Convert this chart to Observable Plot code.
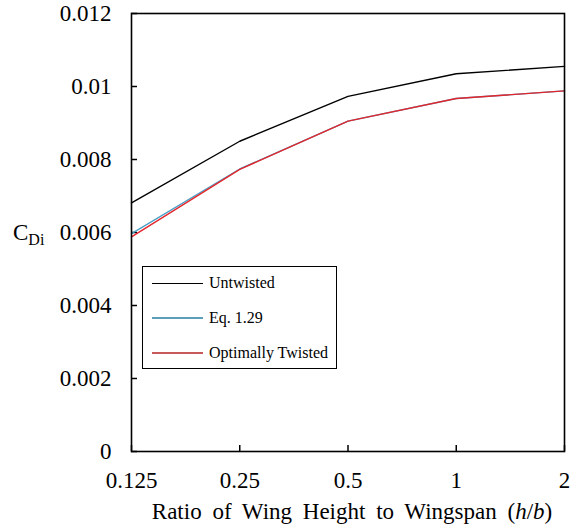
<!DOCTYPE html>
<html>
<head>
<meta charset="utf-8">
<script src="https://cdn.jsdelivr.net/npm/d3@7"></script>
<script src="https://cdn.jsdelivr.net/npm/@observablehq/plot@0.6"></script>
</head>
<body style="margin:0;font-size:20px;background:#fff">
<div id="wrap" style="position:relative;width:573px;height:528px;"></div>
<script>
// Data
const hb = [0.125, 0.25, 0.5, 1, 2];
const untwisted = [0.00681, 0.00850, 0.00973, 0.01035, 0.01055];
const eq129 = [0.00597, 0.00774, 0.00905, 0.00967, 0.00988];
const optimal = [0.00588, 0.00773, 0.00905, 0.00967, 0.00988];
const seriesNames = ["Untwisted", "Eq. 1.29", "Optimally Twisted"];
const lineColors = ["#000000", "#4a9fc6", "#e3262c"];
const legendColors = ["#000000", "#5b9fbd", "#c65a5a"];
const xTicks = [0.125, 0.25, 0.5, 1, 2];
const xTickLabels = ["0.125", "0.25", "0.5", "1", "2"];
const yTicks = [0, 0.002, 0.004, 0.006, 0.008, 0.01, 0.012];
const yTickLabels = ["0", "0.002", "0.004", "0.006", "0.008", "0.01", "0.012"];

const FONT = "'Liberation Serif'";

const rows = [];
[untwisted, eq129, optimal].forEach((vals, s) => {
  vals.forEach((v, i) => rows.push({series: seriesNames[s], x: hb[i], y: v}));
});

const chart = Plot.plot({
  width: 573,
  height: 528,
  marginLeft: 131,
  marginRight: 9,
  marginTop: 13,
  marginBottom: 77,
  style: {fontFamily: FONT, fontSize: "23px", background: "#fff", color: "#000"},
  x: {type: "log", base: 2, domain: [0.125, 2]},
  y: {domain: [0, 0.012]},
  color: {domain: seriesNames, range: lineColors},
  marks: [
    Plot.axisX({ticks: xTicks, tickSize: 0, tickPadding: 20, label: null,
      tickFormat: d => xTickLabels[xTicks.indexOf(d)], fontSize: 23}),
    Plot.axisY({ticks: yTicks, tickSize: 0, tickPadding: 20, label: null,
      tickFormat: d => yTickLabels[yTicks.findIndex(t => Math.abs(t - d) < 1e-9)], fontSize: 23}),
    Plot.ruleX(xTicks, {x: d => d, insetTop: 432, stroke: "#000", strokeWidth: 1.5}),
    Plot.ruleY(yTicks, {y: d => d, insetRight: 427, stroke: "#000", strokeWidth: 1.5}),
    Plot.line(rows, {x: "x", y: "y", z: "series", stroke: "series", strokeWidth: 1.4}),
    Plot.frame({stroke: "#000", strokeWidth: 1.6})
  ]
});

const wrap = document.getElementById("wrap");
wrap.appendChild(chart);

function box(html, css) {
  const d = document.createElement("div");
  d.style.cssText = "position:absolute;line-height:1;white-space:nowrap;color:#000;" + css;
  d.style.fontFamily = FONT;
  d.innerHTML = html;
  wrap.appendChild(d);
  return d;
}
box("C<sub style=\"font-size:16px;vertical-align:-5px\">Di</sub>", "left:13px;top:221px;font-size:23px;");
box("Ratio of Wing Height to Wingspan (<i>h</i>/<i>b</i>)", "left:0;width:704px;top:500px;text-align:center;font-size:23px;word-spacing:5px;");

const legend = box("", "left:142px;top:266px;width:193px;height:101px;border:1.5px solid #000;background:#fff;");
const rowTops = [6, 41, 76];
seriesNames.forEach((name, i) => {
  const r = document.createElement("div");
  r.style.cssText = "position:absolute;left:0;height:20px;display:flex;align-items:center;font-size:16px;white-space:nowrap;top:" + rowTops[i] + "px";
  const sw = document.createElement("span");
  sw.style.cssText = "width:51px;height:0;margin-left:9px;margin-right:6px;border-top:" + (i === 0 ? 1.5 : 2) + "px solid " + legendColors[i];
  r.appendChild(sw);
  const t = document.createElement("span");
  t.style.fontFamily = FONT;
  t.textContent = name;
  r.appendChild(t);
  legend.appendChild(r);
});
</script>
</body>
</html>
